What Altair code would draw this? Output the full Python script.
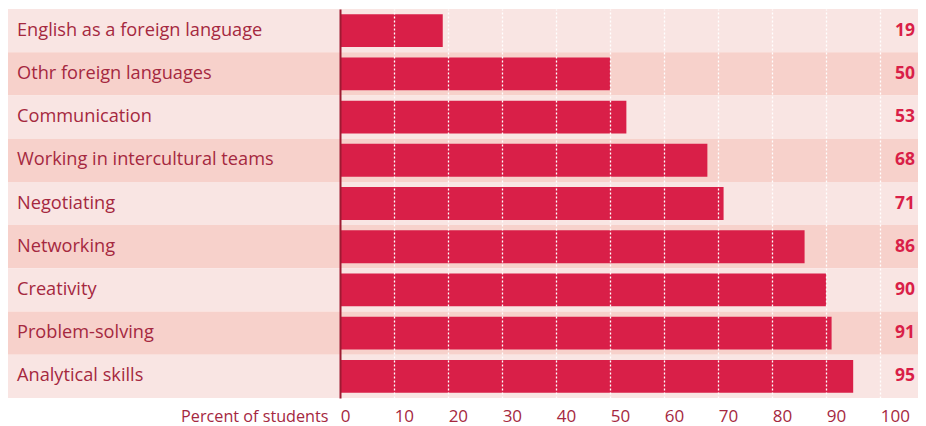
import altair as alt
import pandas as pd

categories = [
    "English as a foreign language",
    "Othr foreign languages",
    "Communication",
    "Working in intercultural teams",
    "Negotiating",
    "Networking",
    "Creativity",
    "Problem-solving",
    "Analytical skills",
]
values = [19, 50, 53, 68, 71, 86, 90, 91, 95]
tick_values = [0, 10, 20, 30, 40, 50, 60, 70, 80, 90, 100]
axis_title = "Percent of students"

df = pd.DataFrame({
    "skill": categories,
    "value": values,
    "band": [i % 2 for i in range(len(categories))],
})

FONT = "Open Sans"
LABEL_COLOR = "#A5283F"
BAR_COLOR = "#D91F48"
AXIS_COLOR = "#9E1B32"

y_enc = alt.Y("skill:N", sort=categories, axis=None,
              scale=alt.Scale(paddingInner=0, paddingOuter=0))

rows = alt.Chart(df).mark_rect().encode(
    y=y_enc,
    x=alt.value(0),
    x2=alt.value("width"),
    color=alt.Color("band:N", scale=alt.Scale(domain=[0, 1], range=["#F9E5E3", "#F7D1CB"]), legend=None),
)

bars = alt.Chart(df).mark_bar(color=BAR_COLOR, height=alt.RelativeBandSize(band=0.76)).encode(
    y=y_enc,
    x=alt.X(
        "value:Q",
        scale=alt.Scale(domain=[-61.5, 107.0], nice=False, zero=False),
        axis=alt.Axis(
            values=tick_values,
            grid=True,
            gridColor={"condition": {"test": "datum.value === 0", "value": AXIS_COLOR}, "value": "white"},
            gridDash={"condition": {"test": "datum.value === 0", "value": []}, "value": [2, 2]},
            gridWidth={"condition": {"test": "datum.value === 0", "value": 2}, "value": 1.3},
            domain=False,
            ticks=False,
            labelAlign="left",
            labelBaseline="top",
            labelPadding=10,
            labelFont=FONT,
            labelFontSize=17,
            labelColor=LABEL_COLOR,
            title=axis_title,
            titleFont=FONT,
            titleFontSize=16.2,
            titleFontWeight="normal",
            titleColor=LABEL_COLOR,
            titleAlign="right",
            titleAnchor=None,
            titleBaseline="top",
            titleX=320,
            titleY=10,
            zindex=1,
        ),
    ),
)

cat_labels = alt.Chart(df).mark_text(
    align="left", baseline="middle", font=FONT, fontSize=18.2, color=LABEL_COLOR
).encode(
    y=y_enc,
    x=alt.value(9),
    text="skill:N",
)

val_labels = alt.Chart(df).mark_text(
    align="right", baseline="middle", font=FONT, fontSize=17.5, fontWeight="bold", color=BAR_COLOR
).encode(
    y=y_enc,
    x=alt.value(907),
    text="value:Q",
)

chart = alt.layer(rows, bars, cat_labels, val_labels).properties(
    width=910,
    height=389,
    padding={"left": 0, "top": 1, "right": 0, "bottom": 28},
    autosize=alt.AutoSizeParams(type="none"),
).configure_view(stroke=None)

chart.save("out.html", embed_options={"renderer": "svg", "actions": False})
